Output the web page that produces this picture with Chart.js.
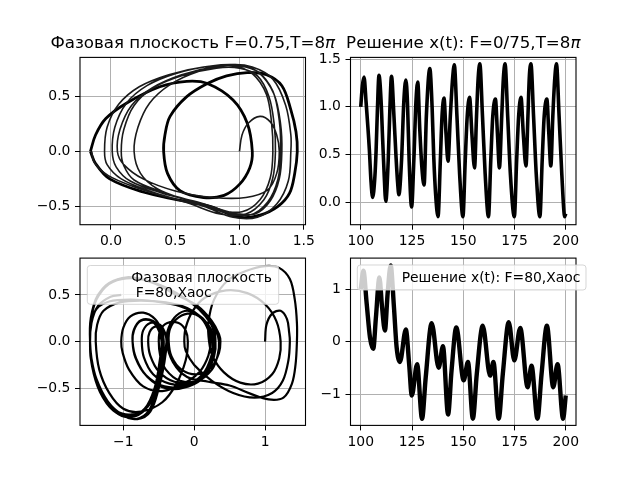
<!DOCTYPE html>
<html><head><meta charset="utf-8">
<script src="https://cdn.jsdelivr.net/npm/chart.js@4.4.0/dist/chart.umd.min.js"></script>
<style>
html,body{margin:0;padding:0;background:#fff;width:640px;height:478px;overflow:hidden}
canvas{position:absolute;left:0;top:0}
</style></head>
<body>
<canvas id="c1" width="640" height="478"></canvas>
<canvas id="c2" width="640" height="478"></canvas>
<canvas id="c3" width="640" height="478"></canvas>
<canvas id="c4" width="640" height="478"></canvas>
<script>
// ---------- data ----------
// top-left: phase plane (x, dx/dt), F=0.75 – transient loops
const phaseTransient = [
 [1.00,0.00],[1.02,0.15],[1.07,0.26],[1.16,0.32],[1.24,0.27],[1.29,0.15],[1.31,0.00],
 [1.29,-0.20],[1.22,-0.35],[1.05,-0.42],[0.80,-0.42],[0.50,-0.36],[0.25,-0.25],[0.10,-0.12],[0.05,0.00],
 [0.07,0.20],[0.16,0.42],[0.32,0.58],[0.55,0.70],[0.80,0.77],[1.00,0.78],[1.15,0.72],[1.27,0.52],[1.32,0.25],[1.33,0.00],
 [1.31,-0.25],[1.24,-0.45],[1.12,-0.57],[0.95,-0.56],[0.70,-0.47],[0.40,-0.38],[0.15,-0.27],[0.04,-0.14],[0.01,0.00],
 [0.03,0.22],[0.12,0.44],[0.28,0.60],[0.50,0.71],[0.78,0.78],[0.98,0.79],[1.14,0.73],[1.26,0.55],[1.31,0.28],[1.32,0.00],
 [1.30,-0.25],[1.22,-0.46],[1.08,-0.58],[0.90,-0.56],[0.65,-0.46],[0.40,-0.37],[0.18,-0.26],[0.10,-0.13],[0.08,0.00],
 [0.10,0.20],[0.18,0.42],[0.33,0.58],[0.55,0.69],[0.82,0.76],[1.00,0.76],[1.14,0.69],[1.23,0.50],[1.27,0.25],[1.28,0.00],
 [1.26,-0.24],[1.19,-0.44],[1.05,-0.57],[0.85,-0.57],[0.60,-0.47],[0.30,-0.36],[0.08,-0.25],[-0.03,-0.12],[-0.05,0.00],
 [-0.03,0.22],[0.06,0.43],[0.22,0.59],[0.45,0.70],[0.72,0.77],[0.95,0.78],[1.10,0.71],[1.21,0.52],[1.25,0.26],[1.26,0.00],
 [1.24,-0.24],[1.16,-0.44],[1.02,-0.55],[0.82,-0.53],[0.58,-0.44],[0.36,-0.34],[0.23,-0.20],[0.18,0.00],
 [0.21,0.22],[0.30,0.44],[0.46,0.61],[0.68,0.73],[0.92,0.79],[1.10,0.77],[1.26,0.66],[1.36,0.42],[1.40,0.15],[1.40,0.00],
 [1.38,-0.27],[1.29,-0.48],[1.14,-0.60],[0.95,-0.60],[0.72,-0.50],[0.45,-0.42],[0.20,-0.33],[-0.02,-0.22],[-0.13,-0.10],[-0.15,0.00]
];
// top-left: settled orbit (drawn many times, thick)
const phaseSteady = [
 [-0.16,0.00],[-0.12,0.15],[-0.04,0.30],[0.12,0.44],[0.38,0.59],[0.59,0.64],[0.75,0.62],[0.95,0.47],[1.06,0.26],[1.10,0.00],
 [1.08,-0.15],[1.00,-0.30],[0.88,-0.40],[0.72,-0.42],[0.54,-0.36],[0.44,-0.20],[0.41,0.00],
 [0.42,0.15],[0.46,0.32],[0.59,0.50],[0.75,0.62],[0.90,0.69],[1.06,0.72],[1.21,0.70],[1.33,0.60],[1.40,0.38],[1.44,0.18],[1.45,0.00],
 [1.43,-0.20],[1.39,-0.38],[1.30,-0.50],[1.16,-0.58],[1.00,-0.60],[0.77,-0.50],[0.51,-0.44],[0.25,-0.37],[-0.01,-0.25],[-0.12,-0.11],[-0.16,0.00]
];
// top-right: x(t), F=0.75
const solution1 = [
 [100.0,1.00],[100.8,1.22],[101.6,1.31],[102.6,1.05],[104.2,0.55],[105.0,0.22],[105.8,0.05],[106.9,0.27],[107.5,0.55],[108.1,0.95],[108.9,1.33],
 [109.9,1.07],[110.7,0.65],[111.4,0.30],[112.2,0.01],[113.4,0.44],[114.2,0.97],[115.0,1.32],[116.2,0.90],[117.2,0.48],[118.0,0.20],[118.6,0.08],
 [119.9,0.44],[121.0,1.05],[122.0,1.28],[122.8,1.04],[123.6,0.44],[124.8,-0.05],[125.9,0.44],[126.9,1.04],[127.8,1.26],[128.8,0.76],[129.8,0.37],
 [130.9,0.18],[132.0,0.90],[133.7,1.40],[134.8,1.00],[135.6,0.48],[136.6,0.06],[137.7,-0.15],
 [138.83,0.44],[139.64,0.90],[140.61,1.09],[141.59,0.72],[142.56,0.43],[143.69,0.90],[144.82,1.30],[145.63,1.44],[146.93,0.90],[148.22,0.30],[149.84,-0.15],
 [150.97,0.44],[151.94,0.90],[153.07,1.10],[154.21,0.72],[155.50,0.36],[156.47,0.90],[157.28,1.30],[158.09,1.45],[159.39,0.90],[160.68,0.30],[162.30,-0.15],
 [163.43,0.44],[164.40,0.90],[165.70,1.08],[166.67,0.72],[167.64,0.36],[168.77,0.90],[169.58,1.30],[170.39,1.45],[171.68,0.90],[172.98,0.30],[174.92,-0.15],
 [176.05,0.44],[177.02,0.90],[178.16,1.10],[179.29,0.72],[180.58,0.38],[181.55,0.90],[182.20,1.30],[183.01,1.45],[184.30,0.90],[185.60,0.30],[187.38,-0.15],
 [188.51,0.44],[189.48,0.90],[190.78,1.08],[191.75,0.72],[192.72,0.38],[193.69,0.90],[194.66,1.30],[195.47,1.45],[196.76,0.90],[198.06,0.30],[199.51,-0.15],[200.0,-0.12]
];
// bottom-left: phase plane, F=80 (chaos)
const phaseChaos = [
 [1.00,0.00],[1.02,0.18],[1.10,0.30],[1.22,0.33],[1.31,0.24],[1.34,0.10],[1.35,0.00],
 [1.33,-0.20],[1.25,-0.42],[1.10,-0.55],[0.85,-0.60],[0.55,-0.55],[0.25,-0.42],[0.00,-0.25],[-0.12,-0.10],[-0.14,0.00],
 [-0.12,0.15],[-0.02,0.33],[0.15,0.47],[0.45,0.55],[0.75,0.52],[1.00,0.40],[1.16,0.22],[1.22,0.00],
 [1.20,-0.18],[1.10,-0.35],[0.90,-0.45],[0.65,-0.44],[0.42,-0.33],[0.26,-0.16],[0.21,0.00],
 [0.20,0.20],[0.28,0.45],[0.48,0.66],[0.74,0.76],[1.00,0.81],[1.20,0.79],[1.35,0.67],[1.42,0.45],[1.45,0.20],[1.45,0.00],
 [1.43,-0.25],[1.38,-0.45],[1.26,-0.60],[1.05,-0.62],[0.80,-0.56],[0.50,-0.47],[0.20,-0.43],[-0.10,-0.38],[-0.30,-0.22],[-0.39,0.00],
 [-0.36,0.15],[-0.25,0.28],[-0.08,0.33],[0.10,0.25],[0.20,0.12],[0.23,0.00],
 [0.20,-0.15],[0.08,-0.32],[-0.15,-0.45],[-0.45,-0.53],[-0.72,-0.48],[-0.92,-0.30],[-1.01,-0.12],[-1.03,0.00],
 [-1.00,0.15],[-0.90,0.27],[-0.72,0.31],[-0.55,0.24],[-0.46,0.12],[-0.43,0.00],
 [-0.45,-0.22],[-0.52,-0.50],[-0.64,-0.74],[-0.82,-0.83],[-1.04,-0.78],[-1.24,-0.64],[-1.39,-0.40],[-1.46,-0.18],[-1.47,0.00],
 [-1.46,0.20],[-1.40,0.42],[-1.25,0.60],[-1.00,0.68],[-0.70,0.66],[-0.40,0.58],[-0.10,0.45],[0.15,0.30],[0.30,0.13],[0.35,0.00],
 [0.33,-0.15],[0.25,-0.30],[0.05,-0.42],[-0.20,-0.42],[-0.40,-0.30],[-0.48,-0.15],[-0.50,0.00],
 [-0.48,0.12],[-0.38,0.20],[-0.22,0.20],[-0.12,0.12],[-0.09,0.00],
 [-0.12,-0.20],[-0.25,-0.45],[-0.45,-0.65],[-0.75,-0.75],[-1.00,-0.72],[-1.20,-0.55],[-1.34,-0.30],[-1.39,0.00],
 [-1.37,0.18],[-1.28,0.33],[-1.05,0.42],[-0.75,0.44],[-0.40,0.42],[-0.10,0.36],[0.12,0.25],[0.24,0.12],[0.27,0.00],
 [0.25,-0.15],[0.15,-0.33],[-0.08,-0.45],[-0.35,-0.45],[-0.58,-0.35],[-0.71,-0.17],[-0.74,0.00],
 [-0.72,0.12],[-0.62,0.20],[-0.48,0.18],[-0.41,0.09],[-0.39,0.00],
 [-0.42,-0.22],[-0.50,-0.50],[-0.62,-0.75],[-0.80,-0.83],[-1.02,-0.78],[-1.22,-0.64],[-1.38,-0.40],[-1.45,-0.18],[-1.47,0.00],
 [-1.46,0.22],[-1.38,0.45],[-1.20,0.62],[-0.95,0.69],[-0.65,0.65],[-0.35,0.55],[-0.05,0.42],[0.16,0.27],[0.28,0.12],[0.30,0.00],
 [0.28,-0.15],[0.18,-0.32],[-0.02,-0.43],[-0.28,-0.43],[-0.50,-0.32],[-0.62,-0.15],[-0.65,0.00],
 [-0.63,0.10],[-0.55,0.16],[-0.45,0.13],[-0.40,0.06],[-0.39,0.00],
 [-0.43,-0.20],[-0.52,-0.48],[-0.66,-0.70],[-0.88,-0.78],[-1.10,-0.74],[-1.30,-0.56],[-1.43,-0.28],[-1.47,0.00],
 [-1.46,0.25],[-1.36,0.50],[-1.15,0.64],[-0.85,0.68],[-0.55,0.62],[-0.25,0.50],[0.05,0.38],[0.25,0.22],[0.35,0.08],[0.37,0.00],
 [0.35,-0.12],[0.25,-0.27],[0.05,-0.35],[-0.18,-0.30],[-0.32,-0.16],[-0.36,0.00],
 [-0.34,0.14],[-0.22,0.26],[-0.02,0.30],[0.15,0.22],[0.24,0.10],[0.26,0.00],
 [0.24,-0.16],[0.12,-0.35],[-0.12,-0.47],[-0.42,-0.48],[-0.68,-0.36],[-0.83,-0.17],[-0.87,0.00],
 [-0.85,0.12],[-0.76,0.22],[-0.60,0.22],[-0.50,0.12],[-0.46,0.00],
 [-0.49,-0.22],[-0.56,-0.50],[-0.70,-0.72],[-0.92,-0.80],[-1.14,-0.74],[-1.33,-0.54],[-1.44,-0.27],[-1.47,0.00],
 [-1.45,0.20],[-1.38,0.35],[-1.20,0.43],[-0.90,0.45],[-0.55,0.43],[-0.20,0.38],[0.08,0.27],[0.24,0.13],[0.30,0.00],
 [0.28,-0.16],[0.16,-0.36],[-0.08,-0.48],[-0.40,-0.50],[-0.66,-0.38],[-0.82,-0.18],[-0.87,0.00],
 [-0.85,0.13],[-0.75,0.23],[-0.58,0.22],[-0.47,0.12],[-0.43,0.00],
 [-0.46,-0.22],[-0.54,-0.50],[-0.68,-0.72],[-0.90,-0.81],[-1.12,-0.75],[-1.32,-0.55],[-1.44,-0.27],[-1.47,0.00],
 [-1.45,0.20],[-1.36,0.38],[-1.18,0.48],[-1.03,0.50]
];
// bottom-right: x(t), F=80
const solution2 = [
 [100.0,1.00],[101.3,1.35],[102.9,0.72],[104.5,0.08],[106.1,-0.14],[107.4,0.46],[109.1,1.22],[110.4,0.65],[111.8,0.21],[113.1,0.91],[114.6,1.45],
 [116.2,0.65],[117.5,-0.11],[119.1,-0.39],[122.0,0.23],[123.6,-0.43],[124.9,-1.03],[127.5,-0.43],[129.9,-1.47],[131.7,-0.68],[134.6,0.35],
 [138.0,-0.50],[140.1,-0.09],[142.6,-1.39],[144.3,-0.55],[146.6,0.27],[150.2,-0.74],[152.3,-0.39],[154.7,-1.47],[156.6,-0.62],[159.5,0.30],
 [163.1,-0.65],[164.7,-0.39],[167.3,-1.47],[169.3,-0.62],[172.2,0.37],[174.9,-0.36],[177.8,0.26],[181.4,-0.87],[183.3,-0.46],[186.2,-1.47],
 [188.2,-0.62],[190.8,0.30],[193.9,-0.87],[196.0,-0.43],[198.7,-1.47],[200.0,-1.03]
];
// tick values and labels
const tlXTicks = [0, 0.5, 1.0, 1.5],  tlXLabels = ['0.0','0.5','1.0','1.5'];
const tlYTicks = [-0.5, 0, 0.5],      tlYLabels = ['\u22120.5','0.0','0.5'];
const trXTicks = [100,125,150,175,200], trXLabels = ['100','125','150','175','200'];
const trYTicks = [0, 0.5, 1.0, 1.5],  trYLabels = ['0.0','0.5','1.0','1.5'];
const blXTicks = [-1, 0, 1],          blXLabels = ['\u22121','0','1'];
const blYTicks = [-0.5, 0, 0.5],      blYLabels = ['\u22120.5','0.0','0.5'];
const brXTicks = [100,125,150,175,200], brXLabels = ['100','125','150','175','200'];
const brYTicks = [-1, 0, 1],          brYLabels = ['\u22121','0','1'];
// titles / legends
const title1 = ['Фазовая плоскость F=0.75,T=8', 'π'];
const title2 = ['Решение x(t): F=0/75,T=8', 'π'];
const legend3 = ['Фазовая плоскость', ' F=80,Хаос'];
const legend4 = ['Решение x(t): F=80,Хаос'];

// ---------- rendering ----------
Chart.defaults.font.family = "'DejaVu Sans', sans-serif";
Chart.defaults.font.size = 13.9;
Chart.defaults.color = '#000';
const FONT = "'DejaVu Sans', sans-serif";

function axis(min, max, ticks, labels, isX) {
  return {
    type: 'linear', min: min, max: max,
    afterBuildTicks: s => { s.ticks = ticks.map(v => ({value: v})); },
    afterFit: s => { if (isX) s.height = 40; else s.width = 50; },
    ticks: { autoSkip: false, maxRotation: 0, minRotation: 0, padding: isX ? 3.5 : 4.6,
             callback: (v, i) => labels[i], color: '#000', font: {size: 13.9} },
    grid: { color: '#b0b0b0', lineWidth: 1, tickColor: '#000', tickLength: 5, tickWidth: 1, drawTicks: true },
    border: { display: false }
  };
}

function decoPlugin(title, legend) {
  return {
    id: 'deco',
    afterDatasetsDraw(chart) {
      const a = chart.chartArea, ctx = chart.ctx;
      ctx.save();
      ctx.strokeStyle = '#000'; ctx.lineWidth = 1.1;
      ctx.strokeRect(a.left, a.top, a.right - a.left, a.bottom - a.top);
      ctx.restore();
    },
    afterDraw(chart) {
      const a = chart.chartArea, ctx = chart.ctx;
      ctx.save();
      const fN = '16.67px ' + FONT, fI = 'italic 16.67px ' + FONT;
      ctx.font = fN; const w1 = ctx.measureText(title[0]).width;
      ctx.font = fI; const w2 = ctx.measureText(title[1]).width;
      const x0 = (a.left + a.right) / 2 - (w1 + w2) / 2, yb = a.top - 9.1;
      ctx.fillStyle = '#000'; ctx.textBaseline = 'alphabetic'; ctx.textAlign = 'left';
      ctx.font = fN; ctx.fillText(title[0], x0, yb);
      ctx.font = fI; ctx.fillText(title[1], x0 + w1, yb);
      if (legend) {
        const b = legend.box, r = 3;
        ctx.globalAlpha = 0.8;
        ctx.beginPath();
        ctx.roundRect(b[0], b[1], b[2] - b[0], b[3] - b[1], r);
        ctx.fillStyle = '#fff'; ctx.fill();
        ctx.strokeStyle = '#cccccc'; ctx.lineWidth = 1; ctx.stroke();
        ctx.globalAlpha = 1;
        ctx.fillStyle = '#000'; ctx.font = '13.9px ' + FONT;
        legend.lines.forEach((t, i) => ctx.fillText(t, legend.x, legend.y + i * 15));
      }
      ctx.restore();
    }
  };
}

function make(id, area, sx, sy, datasets, title, legend) {
  const pad = { left: area[0] - 50, right: 640 - area[1], top: area[2], bottom: 478 - area[3] - 40 };
  return new Chart(document.getElementById(id), {
    type: 'scatter',
    data: { datasets: datasets },
    options: {
      responsive: false, animation: false, devicePixelRatio: 1, events: [],
      layout: { padding: pad },
      scales: { x: sx, y: sy },
      plugins: { legend: { display: false }, tooltip: { enabled: false }, title: { display: false } }
    },
    plugins: [decoPlugin(title, legend)]
  });
}
const pts = arr => arr.map(p => ({x: p[0], y: p[1]}));

make('c1', [80, 305.5, 57.4, 224.7],
  axis(-0.241, 1.514, tlXTicks, tlXLabels, true),
  axis(-0.668, 0.858, tlYTicks, tlYLabels, false),
  [
    { data: pts(phaseTransient), showLine: true, pointRadius: 0, borderColor: '#1a1a1a', borderWidth: 1.6, tension: 0.35 },
    { data: pts(phaseSteady), showLine: true, pointRadius: 0, borderColor: '#000', borderWidth: 2.8, tension: 0.35 }
  ], title1, null);

make('c2', [350.5, 576, 57.4, 224.7],
  axis(95, 205, trXTicks, trXLabels, true),
  axis(-0.235, 1.517, trYTicks, trYLabels, false),
  [ { data: pts(solution1), showLine: true, pointRadius: 0, borderColor: '#000', borderWidth: 3.6, cubicInterpolationMode: 'monotone' } ],
  title2, null);

make('c3', [80, 305.5, 258.1, 425.4],
  axis(-1.612, 1.571, blXTicks, blXLabels, true),
  axis(-0.898, 0.895, blYTicks, blYLabels, false),
  [ { data: pts(phaseChaos), showLine: true, pointRadius: 0, borderColor: '#000', borderWidth: 2.2, tension: 0.35 } ],
  ['', ''], { box: [87.3, 265.5, 278.7, 304.3], lines: legend3, x: 131.3, y: 281.7 });

make('c4', [350.5, 576, 258.1, 425.4],
  axis(95, 205, brXTicks, brXLabels, true),
  axis(-1.598, 1.589, brYTicks, brYLabels, false),
  [ { data: pts(solution2), showLine: true, pointRadius: 0, borderColor: '#000', borderWidth: 4.4, cubicInterpolationMode: 'monotone' } ],
  ['', ''], { box: [357.3, 265, 586, 290], lines: legend4, x: 401.7, y: 281.7 });
</script>
</body></html>
